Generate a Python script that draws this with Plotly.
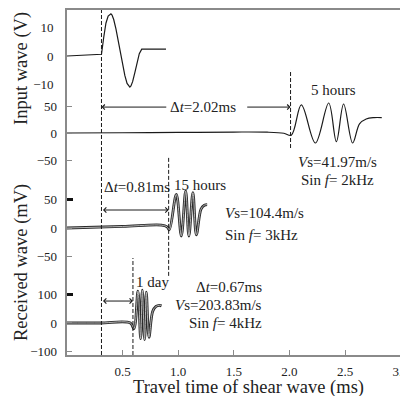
import plotly.graph_objects as go

# ---------------- data ----------------
# Input wave (V) vs time (ms)
input_t = [0.0, 0.31, 0.33, 0.35, 0.37, 0.385, 0.395, 0.405, 0.42, 0.44, 0.46, 0.48, 0.50,
           0.52, 0.54, 0.555, 0.565, 0.575, 0.59, 0.61, 0.63, 0.65, 0.672, 0.89]
input_v = [0.0, 0.6, 6.5, 11.5, 14.0, 14.7, 14.8, 14.4, 12.8, 9.5, 5.5, 1.2, -3.0,
           -6.8, -9.6, -10.7, -10.9, -10.5, -9.0, -5.8, -2.2, 0.8, 2.4, 2.4]

# Received wave after 5 hours (mV)
w5h_t = [0.0, 0.5, 1.0, 1.5, 1.8, 1.95, 2.017, 2.107, 2.233, 2.353, 2.422, 2.487, 2.568,
         2.63, 2.69, 2.76, 2.83]
w5h_v = [0.0, 0.5, 1.0, 1.8, 1.5, -0.5, -4.0, 52.0, -18.5, 55.6, -16.0, 53.7, -18.5,
         17.0, 26.0, 28.5, 28.5]

# Received wave after 15 hours (mV)
w15h_t = [0.0, 0.5, 0.85, 0.9, 0.92, 0.983, 1.028, 1.067, 1.096, 1.132, 1.163, 1.205, 1.235, 1.26]
w15h_v = [0.0, 2.7, 5.0, 2.0, -3.0, 59.0, -14.0, 65.0, -14.0, 62.0, -12.0, 33.0, 40.0, 41.0]

# Received wave after 1 day (mV)
w1d_t = [0.0, 0.3, 0.57, 0.602, 0.638, 0.662, 0.677, 0.698, 0.713, 0.737, 0.77, 0.80, 0.83, 0.85]
w1d_v = [0.0, 0.0, 0.0, -20.0, 112.0, -55.0, 115.0, -58.0, 108.0, -50.0, 40.0, 58.0, 62.0, 60.0]

x_ticks = [0.5, 1.0, 1.5, 2.0, 2.5, 3.0]
y1_ticks = [-10, 0, 10]
y2_ticks = [-50, 0, 50]
y3_ticks = [-50, 0, 50]
y4_ticks = [-100, 0, 100]

t_trigger = 0.31
t_arr_5h = 2.01
t_arr_15h = 0.914
t_arr_1d = 0.593

# ---------------- figure ----------------
FONT = "Liberation Serif"
INK = "#1a1a1a"
AX = "#8a8a8a"

R1 = [-104.9, 16.14]
R2 = [-411.1, 227.8]
R3 = [-222.8, 382.5]
R4 = [-112.3, 1098]

fig = go.Figure()
fig.add_trace(go.Scatter(x=input_t, y=input_v, mode="lines",
                         line=dict(color=INK, width=1.2), yaxis="y"))
fig.add_trace(go.Scatter(x=w5h_t, y=w5h_v, mode="lines",
                         line=dict(color=INK, width=1.2, shape="spline"), yaxis="y2"))
for tt, vv, ax in [(w15h_t, w15h_v, "y3"), (w1d_t, w1d_v, "y4")]:
    fig.add_trace(go.Scatter(x=tt, y=vv, mode="lines",
                             line=dict(color="#2a2a2a", width=2.8, shape="spline"), yaxis=ax))
    fig.add_trace(go.Scatter(x=tt, y=vv, mode="lines",
                             line=dict(color="#c4c4c4", width=0.9, shape="spline"), yaxis=ax))
# empty traces so the heavy-tick overlay axes are drawn
fig.add_trace(go.Scatter(x=[], y=[], yaxis="y5", hoverinfo="skip"))
fig.add_trace(go.Scatter(x=[], y=[], yaxis="y6", hoverinfo="skip"))

tickfont = dict(family=FONT, size=13, color="#222")
common_y = dict(showgrid=False, zeroline=False, tickfont=tickfont, ticklabelstandoff=9,
                fixedrange=True)
thin = dict(ticks="inside", ticklen=5, tickcolor=AX, tickwidth=1.2)

# page body adds an 8px margin, so the figure is 8px smaller and offset
fig.update_layout(
    width=400, height=388,
    margin=dict(l=59, r=0, t=2, b=41, autoexpand=False),
    paper_bgcolor="white", plot_bgcolor="white",
    showlegend=False,
    font=dict(family=FONT, color="#222"),
    xaxis=dict(range=[0, 3.066], tickvals=x_ticks, ticktext=[f"{v:.1f}" for v in x_ticks],
               ticks="inside", ticklen=5, tickcolor=AX, tickwidth=1.2,
               showline=True, linecolor=AX, linewidth=1.8, mirror=True,
               showgrid=False, zeroline=False, tickfont=tickfont, ticklabelstandoff=3,
               ticklabeloverflow="allow"),
    yaxis=dict(range=R1, tickvals=y1_ticks, ticks="",
               showline=True, linecolor=AX, linewidth=1.8, **common_y),
    yaxis2=dict(range=R2, tickvals=y2_ticks, overlaying="y", anchor="x", side="left",
                showline=False, **thin, **common_y),
    yaxis3=dict(range=R3, tickvals=y3_ticks, overlaying="y", anchor="x", side="left",
                showline=False, **thin, **common_y),
    yaxis4=dict(range=R4, tickvals=y4_ticks, overlaying="y", anchor="x", side="left",
                showline=False, **thin, **common_y),
    yaxis5=dict(range=R3, tickvals=[y3_ticks[-1]], overlaying="y", anchor="x", side="left",
                ticks="inside", ticklen=6, tickcolor="#111", tickwidth=3,
                showticklabels=False, showline=False, showgrid=False, zeroline=False),
    yaxis6=dict(range=R4, tickvals=[y4_ticks[-1]], overlaying="y", anchor="x", side="left",
                ticks="inside", ticklen=6, tickcolor="#111", tickwidth=3,
                showticklabels=False, showline=False, showgrid=False, zeroline=False),
)

dash = dict(color=INK, width=1, dash="4px,2px")
fig.add_shape(type="line", xref="x", yref="paper", x0=t_trigger, x1=t_trigger, y0=0, y1=1, line=dash)
fig.add_shape(type="line", xref="x", yref="y4", x0=t_arr_1d, x1=t_arr_1d, y0=R4[0], y1=228, line=dash)
fig.add_shape(type="line", xref="x", yref="y3", x0=t_arr_15h, x1=t_arr_15h, y0=-84, y1=124.6, line=dash)
fig.add_shape(type="line", xref="x", yref="y2", x0=t_arr_5h, x1=t_arr_5h, y0=-27.8, y1=116.7, line=dash)


def arrow(x_head, x_tail, y, yref, both=False):
    fig.add_annotation(x=x_head, y=y, ax=x_tail, ay=y, xref="x", yref=yref,
                       axref="x", ayref=yref, text="", showarrow=True,
                       arrowhead=4, startarrowhead=4, arrowsize=1, startarrowsize=1,
                       arrowwidth=1, arrowcolor=INK,
                       arrowside="end+start" if both else "end")


arrow(t_trigger, 0.906, 48, "y2")
arrow(t_arr_5h, 1.607, 48, "y2")
arrow(t_arr_15h, t_trigger, 31.6, "y3", both=True)
arrow(t_arr_1d, t_trigger, 77, "y4", both=True)


def label(text, x, y, yref, xanchor="center", size=15):
    fig.add_annotation(x=x, y=y, xref="x", yref=yref, text=text, showarrow=False,
                       xanchor=xanchor, yanchor="middle",
                       font=dict(family=FONT, size=size, color="#222"))


label("Δ<i>t</i>=2.02ms", 1.22, 48, "y2")
label("5 hours", 2.397, 79.6, "y2")
label("<i>V</i>s=41.97m/s", 2.434, -53.7, "y2")
label("Sin <i>f</i>= 2kHz", 2.434, -87, "y2")

label("Δ<i>t</i>=0.81ms", 0.318, 72, "y3", xanchor="left")
label("15 hours", 1.192, 75, "y3")
label("<i>V</i>s=104.4m/s", 1.40, 26, "y3", xanchor="left")
label("Sin <i>f</i>= 3kHz", 1.40, -12.3, "y3", xanchor="left")

label("1 day", 0.77, 144, "y4")
label("Δ<i>t</i>=0.67ms", 1.768, 126, "y4", xanchor="right")
label("<i>V</i>s=203.83m/s", 1.768, 63, "y4", xanchor="right")
label("Sin <i>f</i>= 4kHz", 1.768, 0, "y4", xanchor="right")

title_font = dict(family=FONT, size=18.5, color="#222")
fig.add_annotation(text="Input wave (V)", xref="paper", yref="paper", x=-0.132, y=0.832,
                   xanchor="center", yanchor="middle",
                   textangle=-90, showarrow=False, font=title_font)
fig.add_annotation(text="Received wave (mV)", xref="paper", yref="paper", x=-0.132, y=0.2696,
                   xanchor="center", yanchor="middle",
                   textangle=-90, showarrow=False, font=title_font)
fig.add_annotation(text="Travel time of shear wave (ms)", xref="paper", yref="paper",
                   x=0.532, y=-0.094, xanchor="center", yanchor="middle",
                   showarrow=False, font=title_font)

fig.write_html("out.html")
